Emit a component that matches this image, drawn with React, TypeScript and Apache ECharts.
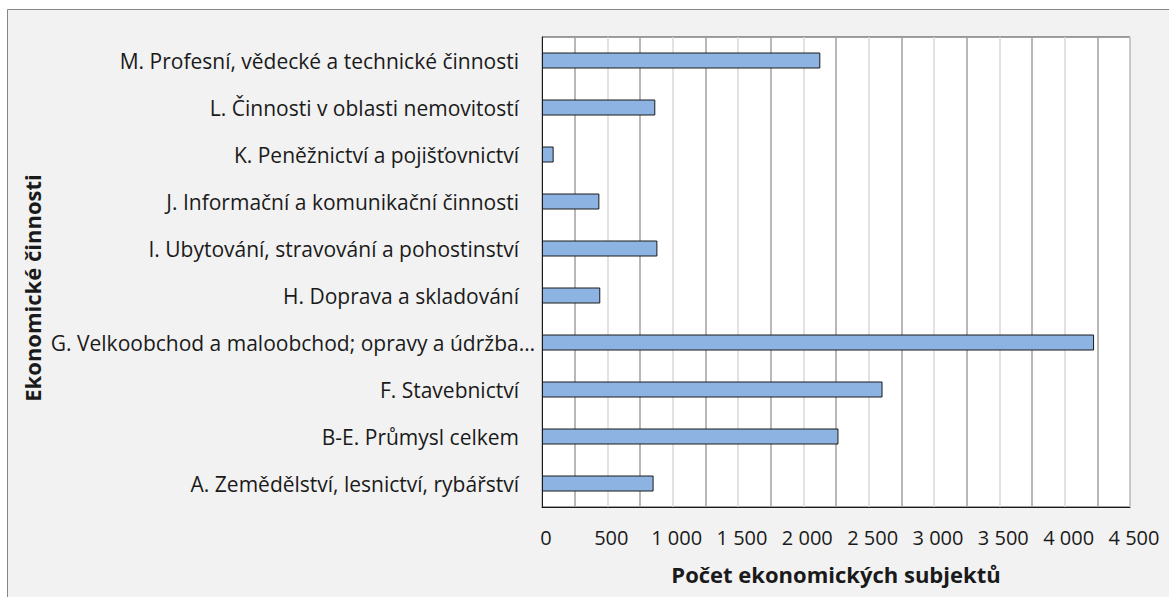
import React, { useEffect, useRef } from "react";
import * as echarts from "echarts";

const categories = [
  "A. Zemědělství, lesnictví, rybářství",
  "B-E. Průmysl celkem",
  "F. Stavebnictví",
  "G. Velkoobchod a maloobchod; opravy a údržba…",
  "H. Doprava a skladování",
  "I. Ubytování, stravování a pohostinství",
  "J. Informační a komunikační činnosti",
  "K. Peněžnictví a pojišťovnictví",
  "L. Činnosti v oblasti nemovitostí",
  "M. Profesní, vědecké a technické činnosti",
];
const values = [854, 2269, 2606, 4225, 446, 883, 439, 89, 867, 2130];
const xTitle = "Počet ekonomických subjektů";
const yTitle = "Ekonomické činnosti";

const FONT = "'Open Sans', 'Noto Sans', sans-serif";

function fmt(v: number): string {
  const s = String(Math.round(v));
  return s.replace(/\B(?=(\d{3})+(?!\d))/g, " ");
}

export default function App() {
  const ref = useRef<HTMLDivElement>(null);
  useEffect(() => {
    if (!ref.current) return;
    const chart = echarts.init(ref.current, null, { renderer: "svg" });
    chart.setOption({
      animation: false,
      backgroundColor: "#ffffff",
      textStyle: { fontFamily: FONT },
      graphic: [
        {
          type: "rect",
          z: -10,
          silent: true,
          shape: { x: 7.5, y: 9.5, width: 1250, height: 700 },
          style: { fill: "#f2f2f2", stroke: "#868686", lineWidth: 1 },
        },
        {
          type: "text",
          x: 32,
          y: 288,
          rotation: Math.PI / 2,
          style: {
            text: yTitle,
            fontFamily: FONT,
            fontWeight: "bold",
            fontSize: 22,
            fill: "#1a1a1a",
            align: "center",
            verticalAlign: "middle",
          },
        },
      ],
      grid: {
        left: 542,
        right: 39,
        top: 37,
        bottom: 90,
        show: true,
        backgroundColor: "#ffffff",
        borderColor: "#404040",
        borderWidth: 1,
      },
      xAxis: {
        type: "value",
        min: 0,
        max: 4500,
        interval: 500,
        name: xTitle,
        nameLocation: "middle",
        nameGap: 56,
        nameTextStyle: {
          fontFamily: FONT,
          fontWeight: "bold",
          fontSize: 22,
          color: "#1a1a1a",
        },
        axisLine: { show: true, lineStyle: { color: "#1a1a1a", width: 1 } },
        axisTick: { show: false },
        axisLabel: {
          margin: 20,
          fontSize: 20,
          fontFamily: FONT,
          color: "#1a1a1a",
          padding: [0, 0, 0, 8],
          formatter: (v: number) => fmt(v),
        },
        splitLine: { show: true, lineStyle: { color: "#d9d9d9", width: 1.5 } },
        minorTick: { show: false, splitNumber: 2 },
        minorSplitLine: { show: true, lineStyle: { color: "#a0a0a0", width: 1.5 } },
      },
      yAxis: {
        type: "category",
        data: categories,
        axisLine: { show: true, lineStyle: { color: "#1a1a1a", width: 1 } },
        axisTick: { show: false },
        splitLine: { show: false },
        axisLabel: {
          interval: 0,
          margin: 7,
          fontSize: 21,
          fontFamily: FONT,
          color: "#1a1a1a",
          formatter: (v: string) => (v.endsWith("…") ? v : `{p|${v}}`),
          rich: {
            p: {
              fontSize: 21,
              fontFamily: FONT,
              color: "#1a1a1a",
              padding: [0, 16, 0, 0],
            },
          },
        },
      },
      series: [
        {
          type: "bar",
          data: values,
          barWidth: 16,
          itemStyle: { color: "#8db3e2", borderColor: "#1a1a1a", borderWidth: 1 },
        },
      ],
    });
    return () => chart.dispose();
  }, []);
  return (
    <div
      ref={ref}
      style={{ position: "fixed", left: 0, top: 0, width: 1169, height: 597 }}
    />
  );
}
